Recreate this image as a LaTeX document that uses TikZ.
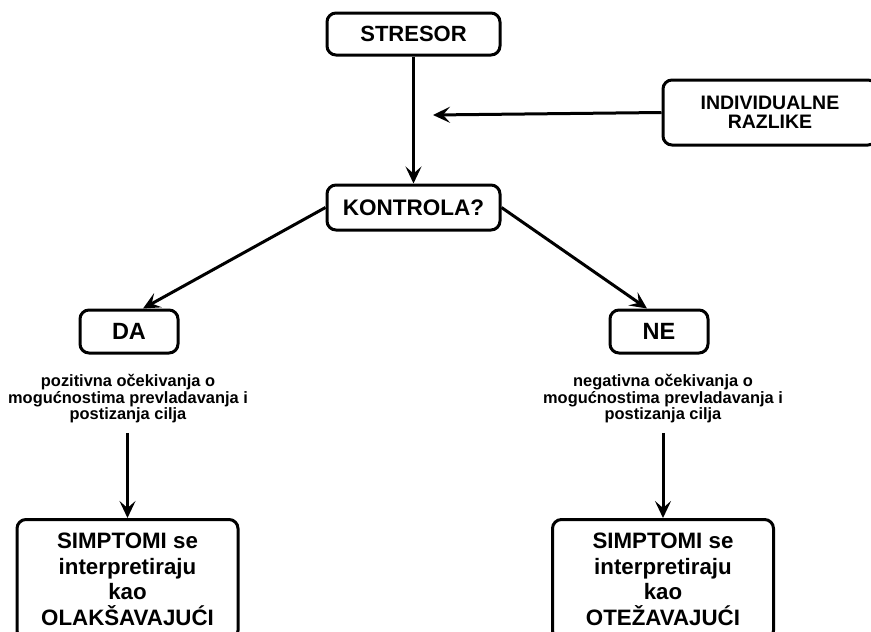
\documentclass[tikz,border=0pt]{standalone}
\usepackage{fontspec}
\setmainfont{Liberation Sans}
\usepackage{tikz}
\usetikzlibrary{arrows.meta}

\tikzset{
	box/.style={draw, line width=3pt, rounded corners=9pt, align=center, font=\bfseries},
	arr/.style={line width=3pt, -{Stealth[length=17pt, width=16pt, inset=7pt]}},
	note/.style={align=center, font=\bfseries\fontsize{16.4}{16.5}\selectfont}
}

\begin{document}
\begin{tikzpicture}[x=1pt, y=-1pt]
			\useasboundingbox (0,0) rectangle (871,632);
			% Nodes
			\node[box, minimum width=173pt, minimum height=42pt, font=\bfseries\fontsize{22}{24}\selectfont] (stresor) at (413.5,34) {STRESOR};
			\node[box, minimum width=173pt, minimum height=45pt, font=\bfseries\fontsize{22.5}{24}\selectfont] (kontrola) at (413.5,207.5) {KONTROLA?};
			\node[box, minimum width=214pt, minimum height=65pt, font=\bfseries\fontsize{19.5}{19}\selectfont] (razlike) at (770,112.5) {INDIVIDUALNE\\RAZLIKE};
			\node[box, minimum width=98pt, minimum height=43pt, font=\bfseries\fontsize{23.5}{24}\selectfont] (da) at (129,331.5) {DA};
			\node[box, minimum width=98pt, minimum height=43pt, font=\bfseries\fontsize{23.5}{24}\selectfont] (ne) at (659,331.5) {NE};
			\node[note] (pozitivna) at (128,399) {pozitivna očekivanja o\\mogućnostima prevladavanja i\\postizanja cilja};
			\node[note] (negativna) at (663,399) {negativna očekivanja o\\mogućnostima prevladavanja i\\postizanja cilja};
			\node[box, anchor=north, minimum width=221pt, minimum height=120pt, font=\bfseries\fontsize{22.3}{25.5}\selectfont] (olaks) at (127.5,518) {SIMPTOMI se\\interpretiraju\\kao\\OLAKŠAVAJUĆI};
			\node[box, anchor=north, minimum width=221pt, minimum height=120pt, font=\bfseries\fontsize{22.3}{25.5}\selectfont] (otez) at (663,518) {SIMPTOMI se\\interpretiraju\\kao\\OTEŽAVAJUĆI};
			\coordinate (ulaz) at (433,115);
			% Arrows
			\draw[arr] (stresor) -- (kontrola);
			\draw[arr] (razlike.west) -- (ulaz);
			\draw[arr] (kontrola.west) -- ([xshift=14pt]da.north);
			\draw[arr] (kontrola.east) -- ([xshift=-12pt]ne.north);
			\draw[arr] ([yshift=-6pt]pozitivna.south -| olaks.north) -- (olaks.north);
			\draw[arr] ([yshift=-6pt]negativna.south -| otez.north) -- (otez.north);
		\end{tikzpicture}
\end{document}
